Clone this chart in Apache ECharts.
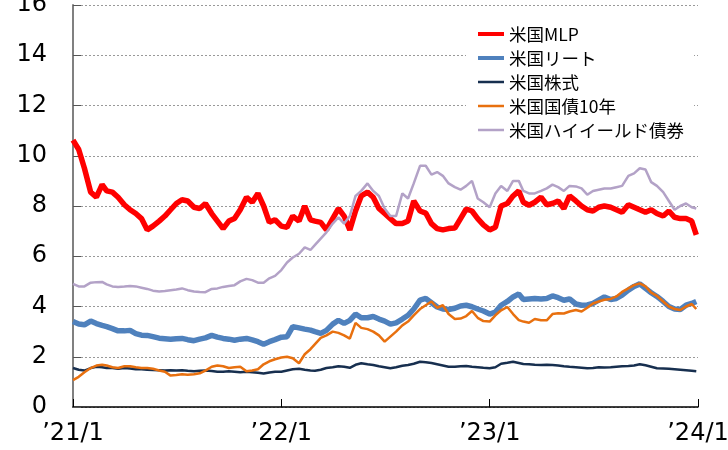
<!DOCTYPE html>
<html><head><meta charset="utf-8">
<script src="https://cdn.jsdelivr.net/npm/echarts@6/dist/echarts.min.js"></script>
<style>html,body{margin:0;padding:0;background:#fff}#c{width:728px;height:450px}</style>
</head><body><div id="c"></div>
<script>
// sample dates: 1st, 11th, 21st of each month, Jan 2021 - Dec 2023, plus last point
const sampleDays = [1, 11, 21];
const years = [2021, 2022, 2023];
const dates = [];
years.forEach(y => { for (let m = 1; m <= 12; m++) sampleDays.forEach(d => dates.push(y + '-' + String(m).padStart(2,'0') + '-' + String(d).padStart(2,'0'))); });
dates.push('2023-12-29');

const seriesNames = ['米国MLP', '米国リート', '米国株式', '米国国債10年', '米国ハイイールド債券'];
const xTickLabels = ['’21/1', '’22/1', '’23/1', '’24/1'];
const yTicks = [0, 2, 4, 6, 8, 10, 12, 14, 16];

const mlp = [
 10.62,10.25,9.5, 8.55,8.35,8.85, 8.6,8.55,8.35, 8.05,7.85,7.7, 7.5,7.05,7.2, 7.4,7.6,7.85,
 8.1,8.25,8.2, 7.95,7.9,8.1, 7.7,7.4,7.1, 7.4,7.5,7.85, 8.35,8.15,8.5, 8.0,7.35,7.45,
 7.2,7.15,7.6, 7.4,8.0,7.45, 7.4,7.35,7.05, 7.5,7.9,7.6, 7.05,7.8,8.4, 8.55,8.35,7.9,
 7.7,7.5,7.3, 7.3,7.4,8.2, 7.8,7.72,7.3, 7.1,7.05,7.1, 7.12,7.5,7.88, 7.8,7.5,7.25,
 7.05,7.15,8.0, 8.1,8.4,8.6, 8.15,8.03,8.15, 8.35,8.05,8.1, 8.2,7.9,8.4, 8.2,8.0,7.85,
 7.8,7.95,8.0, 7.95,7.85,7.75, 8.05,7.95,7.85, 7.75,7.85,7.7, 7.6,7.8,7.55, 7.5,7.5,7.4,
 6.85];
const reit = [
 3.4,3.3,3.27, 3.42,3.32,3.25, 3.2,3.12,3.03, 3.03,3.05,2.92, 2.86,2.85,2.8, 2.74,2.72,2.7,
 2.72,2.73,2.68, 2.64,2.7,2.75, 2.85,2.78,2.73, 2.7,2.66,2.7, 2.73,2.67,2.6, 2.5,2.6,2.68,
 2.78,2.8,3.2, 3.15,3.1,3.06, 3.0,2.93,3.05, 3.3,3.45,3.33, 3.45,3.7,3.55, 3.55,3.6,3.5,
 3.42,3.3,3.35, 3.5,3.65,3.9, 4.25,4.32,4.15, 3.98,3.9,3.88, 3.93,4.02,4.05, 3.99,3.9,3.82,
 3.7,3.78,4.05, 4.2,4.38,4.5, 4.28,4.3,4.32, 4.3,4.32,4.42, 4.35,4.25,4.3, 4.1,4.05,4.06,
 4.12,4.25,4.38, 4.28,4.32,4.45, 4.65,4.8,4.9, 4.72,4.55,4.4, 4.2,4.0,3.9, 3.88,4.05,4.12,
 4.2];
const stocks = [
 1.55,1.48,1.45, 1.55,1.6,1.58, 1.55,1.55,1.52, 1.55,1.53,1.5, 1.5,1.48,1.47, 1.46,1.45,1.46,
 1.45,1.46,1.44, 1.42,1.44,1.45, 1.43,1.4,1.4, 1.42,1.4,1.38, 1.4,1.38,1.36, 1.33,1.37,1.4,
 1.4,1.45,1.5, 1.52,1.48,1.45, 1.44,1.48,1.55, 1.58,1.62,1.6, 1.56,1.68,1.74, 1.7,1.67,1.62,
 1.58,1.54,1.58, 1.64,1.67,1.72, 1.8,1.78,1.75, 1.7,1.65,1.6, 1.6,1.62,1.63, 1.6,1.58,1.56,
 1.54,1.58,1.72, 1.76,1.8,1.75, 1.71,1.7,1.68, 1.67,1.68,1.67, 1.65,1.62,1.6, 1.58,1.56,1.54,
 1.55,1.58,1.57, 1.58,1.6,1.62, 1.63,1.65,1.7, 1.66,1.6,1.54, 1.53,1.52,1.5, 1.48,1.46,1.44,
 1.42];
const treasury10y = [
 1.07,1.2,1.38, 1.55,1.65,1.68, 1.65,1.58,1.55, 1.62,1.62,1.58, 1.55,1.55,1.52, 1.45,1.4,1.25,
 1.27,1.3,1.28, 1.3,1.34,1.45, 1.6,1.65,1.62, 1.55,1.58,1.6, 1.42,1.45,1.5, 1.7,1.82,1.9,
 1.97,2.0,1.94, 1.74,2.1,2.3, 2.5,2.75,2.85, 3.0,2.95,2.85, 2.72,3.35,3.15, 3.1,3.0,2.85,
 2.6,2.8,3.0, 3.25,3.4,3.65, 3.9,4.05,4.2, 3.95,4.05,3.7, 3.5,3.52,3.62, 3.82,3.55,3.42,
 3.4,3.65,3.85, 3.98,3.7,3.46, 3.4,3.35,3.5, 3.45,3.45,3.7, 3.73,3.72,3.8, 3.86,3.8,3.95,
 4.12,4.2,4.27, 4.3,4.4,4.58, 4.72,4.85,4.92, 4.8,4.55,4.42, 4.2,4.0,3.9, 3.86,4.0,4.1,
 3.9];
const highYield = [
 4.9,4.8,4.8, 4.95,4.97,4.98, 4.88,4.8,4.78, 4.8,4.82,4.8, 4.75,4.7,4.63, 4.6,4.62,4.65,
 4.68,4.72,4.65, 4.6,4.58,4.57, 4.7,4.72,4.78, 4.82,4.85,5.0, 5.1,5.05,4.95, 4.95,5.12,5.22,
 5.45,5.75,5.95, 6.1,6.35,6.25, 6.45,6.7,6.95, 7.3,7.55,7.3, 7.6,8.4,8.6, 8.9,8.6,8.4,
 7.9,7.6,7.6, 8.5,8.3,8.9, 9.6,9.6,9.25, 9.35,9.2,8.9, 8.75,8.65,8.8, 9.0,8.3,8.15,
 7.95,8.5,8.8, 8.6,9.0,9.0, 8.6,8.5,8.5, 8.6,8.7,8.85, 8.75,8.6,8.8, 8.78,8.7,8.45,
 8.6,8.65,8.7, 8.7,8.75,8.8, 9.2,9.3,9.5, 9.45,8.95,8.8, 8.55,8.2,7.85, 8.0,8.1,7.95,
 7.9];

const values = [mlp, reit, stocks, treasury10y, highYield];
const colors = ['#FF0000', '#4F81BD', '#172F4F', '#E8700F', '#B3A2C7'];
const widths = [5.5, 5.5, 2.5, 2.5, 2.5];

const thick = 'path://M0,0L0.01,0Z M0,14L0.01,14Z M0,5H26V9H0Z';
const thin = 'path://M0,0L0.01,0Z M0,14L0.01,14Z M0,5.75H26V8.25H0Z';
const icons = [thick, thick, thin, thin, thin];

const chart = echarts.init(document.getElementById('c'));
const font = '"Noto Sans CJK JP", "Noto Sans", sans-serif';
chart.setOption({
  animation: false,
  backgroundColor: '#fff',
  grid: { left: 73, right: 30, top: 5, bottom: 43, containLabel: false, outerBoundsMode: 'none' },
  legend: {
    orient: 'vertical', left: 466, top: 18,
    padding: [6, 10, 6, 12],
    backgroundColor: '#fff',
    itemWidth: 26, itemHeight: 14, itemGap: 4,
    symbolKeepAspect: false,
    itemStyle: { borderWidth: 0 },
    textStyle: { fontFamily: font, fontSize: 17.5, color: '#000', lineHeight: 20 },
    data: seriesNames.map((n, i) => ({ name: n, icon: icons[i] }))
  },
  xAxis: {
    type: 'time',
    min: '2021-01-01', max: '2024-01-01',
    splitNumber: 3,
    axisLine: { lineStyle: { color: '#000', width: 1.5 } },
    axisTick: { inside: true, length: 8, lineStyle: { color: '#000', width: 1 } },
    splitLine: { show: false },
    axisLabel: {
      margin: 15, fontFamily: 'DejaVu Sans', fontSize: 24, color: '#000',
      showMinLabel: true, showMaxLabel: true, hideOverlap: false,
      formatter: function (v) { const y = new Date(v).getFullYear(); return xTickLabels[y - 2021] || ''; }
    }
  },
  yAxis: {
    type: 'value', min: 0, max: 16, interval: 2,
    axisLine: { show: true, lineStyle: { color: '#808080', width: 2 } },
    axisTick: { show: true, inside: true, length: 8, lineStyle: { color: '#555', width: 1 } },
    splitLine: { show: true, lineStyle: { color: '#999', width: 1, type: [2, 2] } },
    axisLabel: { margin: 26, fontFamily: 'DejaVu Sans', fontSize: 24, color: '#000',
      formatter: function (v) { return yTicks.indexOf(v) >= 0 ? String(v) : ''; } }
  },
  series: seriesNames.map((n, i) => ({
    name: n, type: 'line', symbol: 'none', showSymbol: false,
    data: dates.map((d, j) => [d, values[i][j]]),
    lineStyle: { color: colors[i], width: widths[i] },
    itemStyle: { color: colors[i] },
    emphasis: { disabled: true }
  }))
});
</script></body></html>
